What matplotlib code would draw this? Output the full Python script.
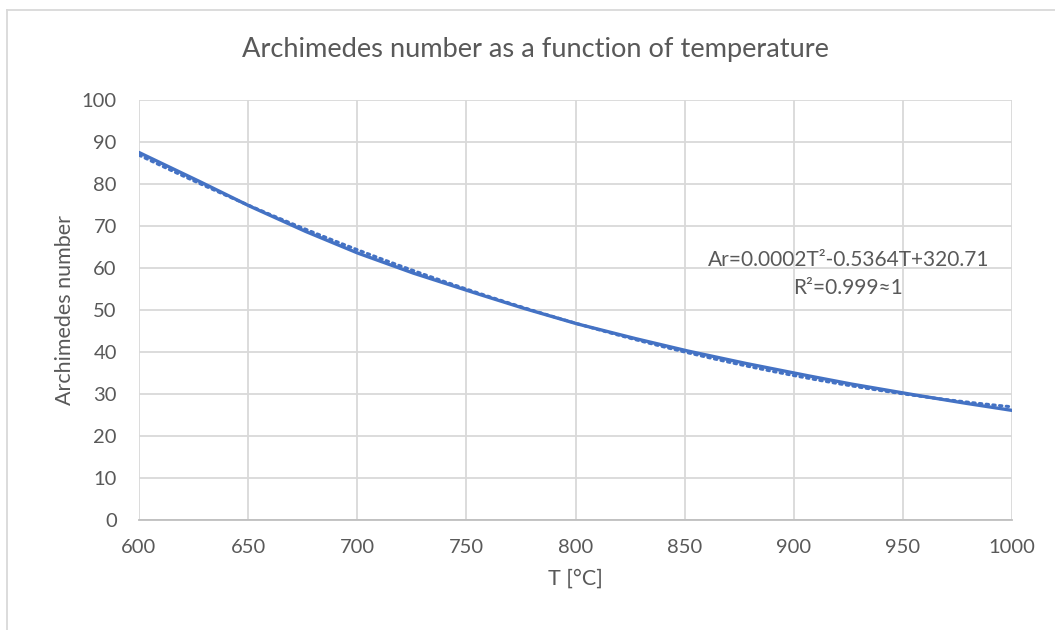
import numpy as np
import matplotlib.pyplot as plt
from matplotlib.lines import Line2D

# values (solid data line)
temperature = [600, 625, 650, 675, 700, 725, 750, 775, 800, 825, 850, 875, 900, 925, 950, 975, 1000]
archimedes = [87.5, 81.3, 74.9, 69.0, 63.6, 58.9, 54.7, 50.6, 46.8, 43.5, 40.4, 37.6, 35.0, 32.5, 30.25, 28.1, 26.1]

x_ticks = [600, 650, 700, 750, 800, 850, 900, 950, 1000]
y_ticks = [0, 10, 20, 30, 40, 50, 60, 70, 80, 90, 100]

equation = "Ar=0.0002T²-0.5364T+320.71"
r_squared = "R²=0.999≈1"

fonts = ['Lato', 'DejaVu Sans']
plt.rcParams['font.family'] = fonts
grey_text = '#595959'
blue = '#4472C4'

fig = plt.figure(figsize=(10.55, 6.3), dpi=100)
ax = fig.add_axes([139 / 1055, 110 / 630, 873 / 1055, 420 / 630])

# polynomial (order 2) trendline fitted to the data, dotted like Excel
coef = np.polyfit(temperature, archimedes, 2)
t_fit = np.linspace(min(temperature), max(temperature), 200)
ax.plot(t_fit, np.polyval(coef, t_fit), color=blue, lw=2.2,
        linestyle=(0, (0.8, 1.4)), dash_capstyle='round', zorder=2)

# smooth-looking data line
t_fine = np.linspace(min(temperature), max(temperature), 300)
ax.plot(t_fine, np.interp(t_fine, temperature, archimedes), color=blue, lw=2.4,
        solid_capstyle='round', zorder=3)

ax.set_xlim(600, 1000)
ax.set_ylim(0, 100)
ax.set_xticks(x_ticks)
ax.set_yticks(y_ticks)
ax.grid(True, color='#d9d9d9', lw=1.3)
ax.set_axisbelow(True)
for side in ['top', 'right', 'left']:
    ax.spines[side].set_visible(False)
ax.spines['bottom'].set_color('#bfbfbf')
ax.spines['bottom'].set_linewidth(1.3)
ax.tick_params(length=0, labelsize=14.5, colors=grey_text)
ax.tick_params(axis='x', pad=14)
ax.tick_params(axis='y', pad=16)

ax.set_xlabel("T [°C]", fontsize=15.5, color=grey_text, labelpad=9)
ax.set_ylabel("Archimedes number", fontsize=15.5, color=grey_text, labelpad=5)
fig.text(535 / 1055, 1 - 50 / 630, "Archimedes number as a function of temperature",
         ha='center', va='center', fontsize=19.6, color=grey_text)

ax.text(925, 61.9, equation, ha='center', va='center', fontsize=15, color=grey_text)
ax.text(925, 55.2, r_squared, ha='center', va='center', fontsize=15, color=grey_text)

# chart area border (only left and top visible in the crop)
fig.add_artist(Line2D([7 / 1055, 7 / 1055], [0, 1 - 10 / 630], color='#d9d9d9', lw=1.3,
                      transform=fig.transFigure))
fig.add_artist(Line2D([7 / 1055, 1], [1 - 10 / 630, 1 - 10 / 630], color='#d9d9d9', lw=1.3,
                      transform=fig.transFigure))

fig.savefig('out.png', dpi=100)
